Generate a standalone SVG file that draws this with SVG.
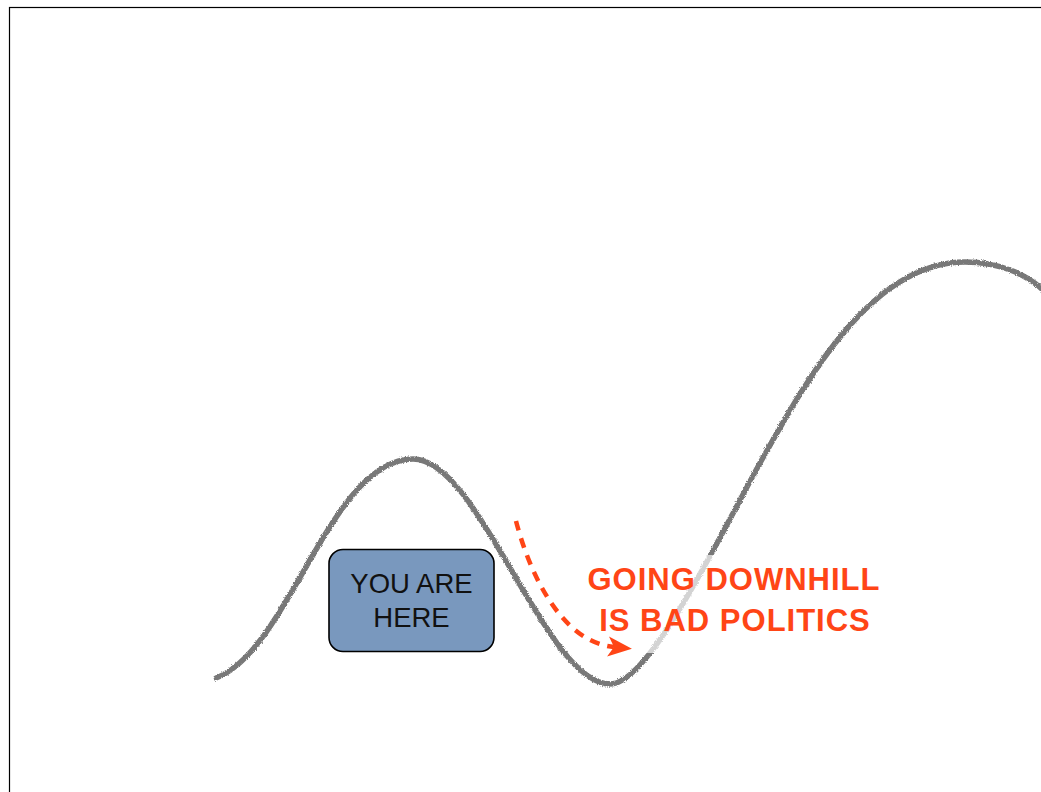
<svg xmlns="http://www.w3.org/2000/svg" width="1041" height="792" viewBox="0 0 1041 792">
  <style>
    .frame { fill: #ffffff; stroke: #000000; stroke-width: 1.2; }
    .hill { fill: none; stroke: #787878; stroke-width: 5.5; stroke-linecap: round; stroke-linejoin: round; }
    .veil { fill: #ffffff; fill-opacity: 0.68; stroke: none; }
    .box { fill: #7998be; stroke: #000000; stroke-width: 1.6; }
    .boxtext { font-family: "Liberation Sans", Arial, Helvetica, sans-serif; font-size: 27.5px; fill: #111111; text-anchor: middle; }
    .warn { font-family: "Liberation Sans", Arial, Helvetica, sans-serif; font-size: 31px; font-weight: bold; fill: #ff4516; text-anchor: middle; letter-spacing: 1px; }
    .dash { fill: none; stroke: #ff4516; stroke-width: 4.5; stroke-dasharray: 10 8; }
  </style>
  <defs>
    <filter id="pencil" x="-5%" y="-5%" width="110%" height="110%">
      <feTurbulence type="fractalNoise" baseFrequency="1.2" numOctaves="2" seed="3" result="noise"/>
      <feDisplacementMap in="SourceGraphic" in2="noise" scale="3.2" xChannelSelector="R" yChannelSelector="G"/>
    </filter>
    <marker id="arrowhead" markerWidth="26" markerHeight="26" viewBox="0 0 26 26" refX="6" refY="13" orient="auto" markerUnits="userSpaceOnUse">
      <path d="M0,3 L24,13 L0,23 L6,13 Z" fill="#ff4516"/>
    </marker>
  </defs>

  <rect class="frame" x="9.5" y="7.5" width="1100" height="900"/>

  <g id="hill-curve">
    <path class="hill" filter="url(#pencil)" d="M216,678 C290,650 330,459 413,459 C480,459 545,684 610,684 C650,684 720,535 760,463 C805,383 870,262 965,262 C1000,262 1030,275 1048,295"/>
  </g>

  <g id="label-downhill">
    <rect class="veil" x="578" y="555" width="312" height="98"/>
    <text class="warn" x="734" y="590">GOING DOWNHILL</text>
    <text class="warn" x="735" y="631">IS BAD POLITICS</text>
  </g>

  <g id="connectors">
    <path class="dash" d="M516,521 C530,575 562,642 614,647" marker-end="url(#arrowhead)"/>
  </g>

  <g id="node-you-are-here">
    <rect class="box" x="329" y="549.5" width="165" height="102" rx="14" ry="14"/>
    <text class="boxtext" x="411.5" y="593">YOU ARE</text>
    <text class="boxtext" x="411.5" y="627">HERE</text>
  </g>
</svg>
